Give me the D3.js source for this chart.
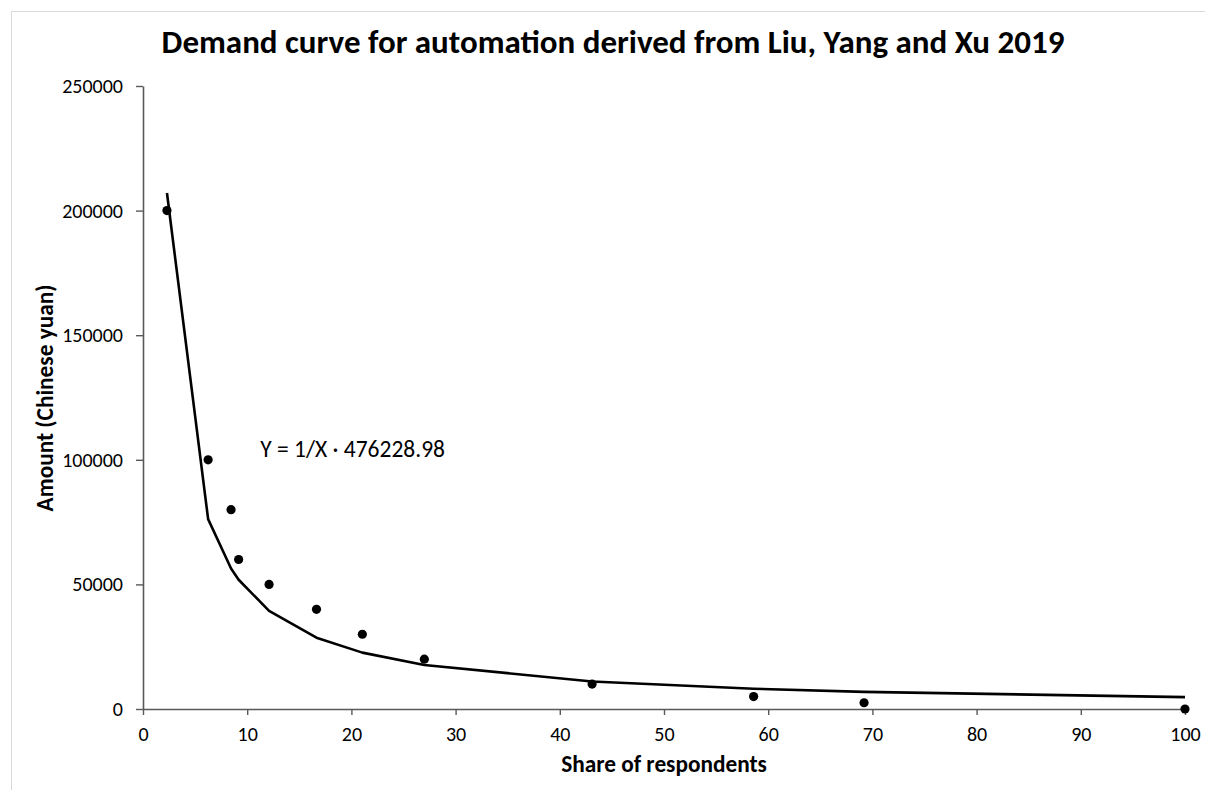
<!DOCTYPE html>
<html>
<head>
<meta charset="utf-8">
<script src="https://cdn.jsdelivr.net/npm/d3@7"></script>
<style>
  html, body { margin: 0; padding: 0; background: #fff; }
  svg { display: block; font-family: Carlito, "Open Sans", sans-serif; }
</style>
</head>
<body>
<svg id="chart" width="1205" height="790"></svg>
<script>
// Survey responses: share of respondents willing to pay at least each amount
const shareOfRespondents = [2.3, 6.25, 8.45, 9.18, 12.1, 16.65, 21.05, 27.0, 43.1, 58.6, 69.2, 100];
const amountYuan = [200000, 100000, 80000, 60000, 50000, 40000, 30000, 20000, 10000, 5000, 2500, 0];

// Fitted demand curve Y = k / X
const fitCoefficient = 476228.98;
const fitLabel = "Y = 1/X \u00B7 476228.98";

const xTicks = [0, 10, 20, 30, 40, 50, 60, 70, 80, 90, 100];
const yTicks = [0, 50000, 100000, 150000, 200000, 250000];

const titleText = "Demand curve for automation derived from Liu, Yang and Xu 2019";
const xTitle = "Share of respondents";
const yTitle = "Amount (Chinese yuan)";

const svg = d3.select("#chart");

// outer frame
svg.append("rect")
  .attr("x", 11.5).attr("y", 11.5)
  .attr("width", 1205).attr("height", 790)
  .attr("fill", "none").attr("stroke", "#d9d9d9").attr("stroke-width", 1);

const x = d3.scaleLinear().domain([0, 100]).range([143, 1185]);
const y = d3.scaleLinear().domain([0, 250000]).range([709, 86]);

// axes
const axisColor = "#595959";
const xAxis = svg.append("g")
  .attr("transform", `translate(0,${y(0)})`)
  .call(d3.axisBottom(x).tickValues(xTicks).tickSize(6).tickSizeOuter(0).tickPadding(12));
const yAxis = svg.append("g")
  .attr("transform", `translate(${x(0)},0)`)
  .call(d3.axisLeft(y).tickValues(yTicks).tickSize(7).tickSizeOuter(0).tickPadding(13)
    .tickFormat(d3.format("d")));

[xAxis, yAxis].forEach(g => {
  g.select(".domain").attr("stroke", axisColor).attr("stroke-width", 1.6);
  g.selectAll(".tick line").attr("stroke", axisColor).attr("stroke-width", 1.4);
  g.selectAll(".tick text")
    .attr("fill", "#000")
    .style("font-size", "20px")
    .style("font-family", 'Carlito, "Open Sans", sans-serif');
});

// fitted curve evaluated at each observed share
const fitted = shareOfRespondents.map(s => [s, fitCoefficient / s]);
svg.append("path")
  .datum(fitted)
  .attr("fill", "none")
  .attr("stroke", "#000")
  .attr("stroke-width", 2.6)
  .attr("stroke-linejoin", "round")
  .attr("d", d3.line().x(d => x(d[0])).y(d => y(d[1])));

// observed responses
svg.append("g").selectAll("circle")
  .data(shareOfRespondents.map((s, i) => [s, amountYuan[i]]))
  .join("circle")
  .attr("cx", d => x(d[0]))
  .attr("cy", d => y(d[1]))
  .attr("r", 4.6)
  .attr("fill", "#000");

// equation label
svg.append("text")
  .attr("x", x(11.25)).attr("y", y(101000))
  .attr("fill", "#000")
  .style("font-size", "23.5px")
  .text(fitLabel);

// titles
svg.append("text")
  .attr("x", 613).attr("y", 53)
  .attr("text-anchor", "middle")
  .style("font-size", "33px").style("font-weight", "bold")
  .text(titleText);

svg.append("text")
  .attr("x", 664).attr("y", 772)
  .attr("text-anchor", "middle")
  .style("font-size", "23.3px").style("font-weight", "bold")
  .text(xTitle);

svg.append("text")
  .attr("transform", "translate(53,398) rotate(-90)")
  .attr("text-anchor", "middle")
  .style("font-size", "23.3px").style("font-weight", "bold")
  .text(yTitle);
</script>
</body>
</html>
